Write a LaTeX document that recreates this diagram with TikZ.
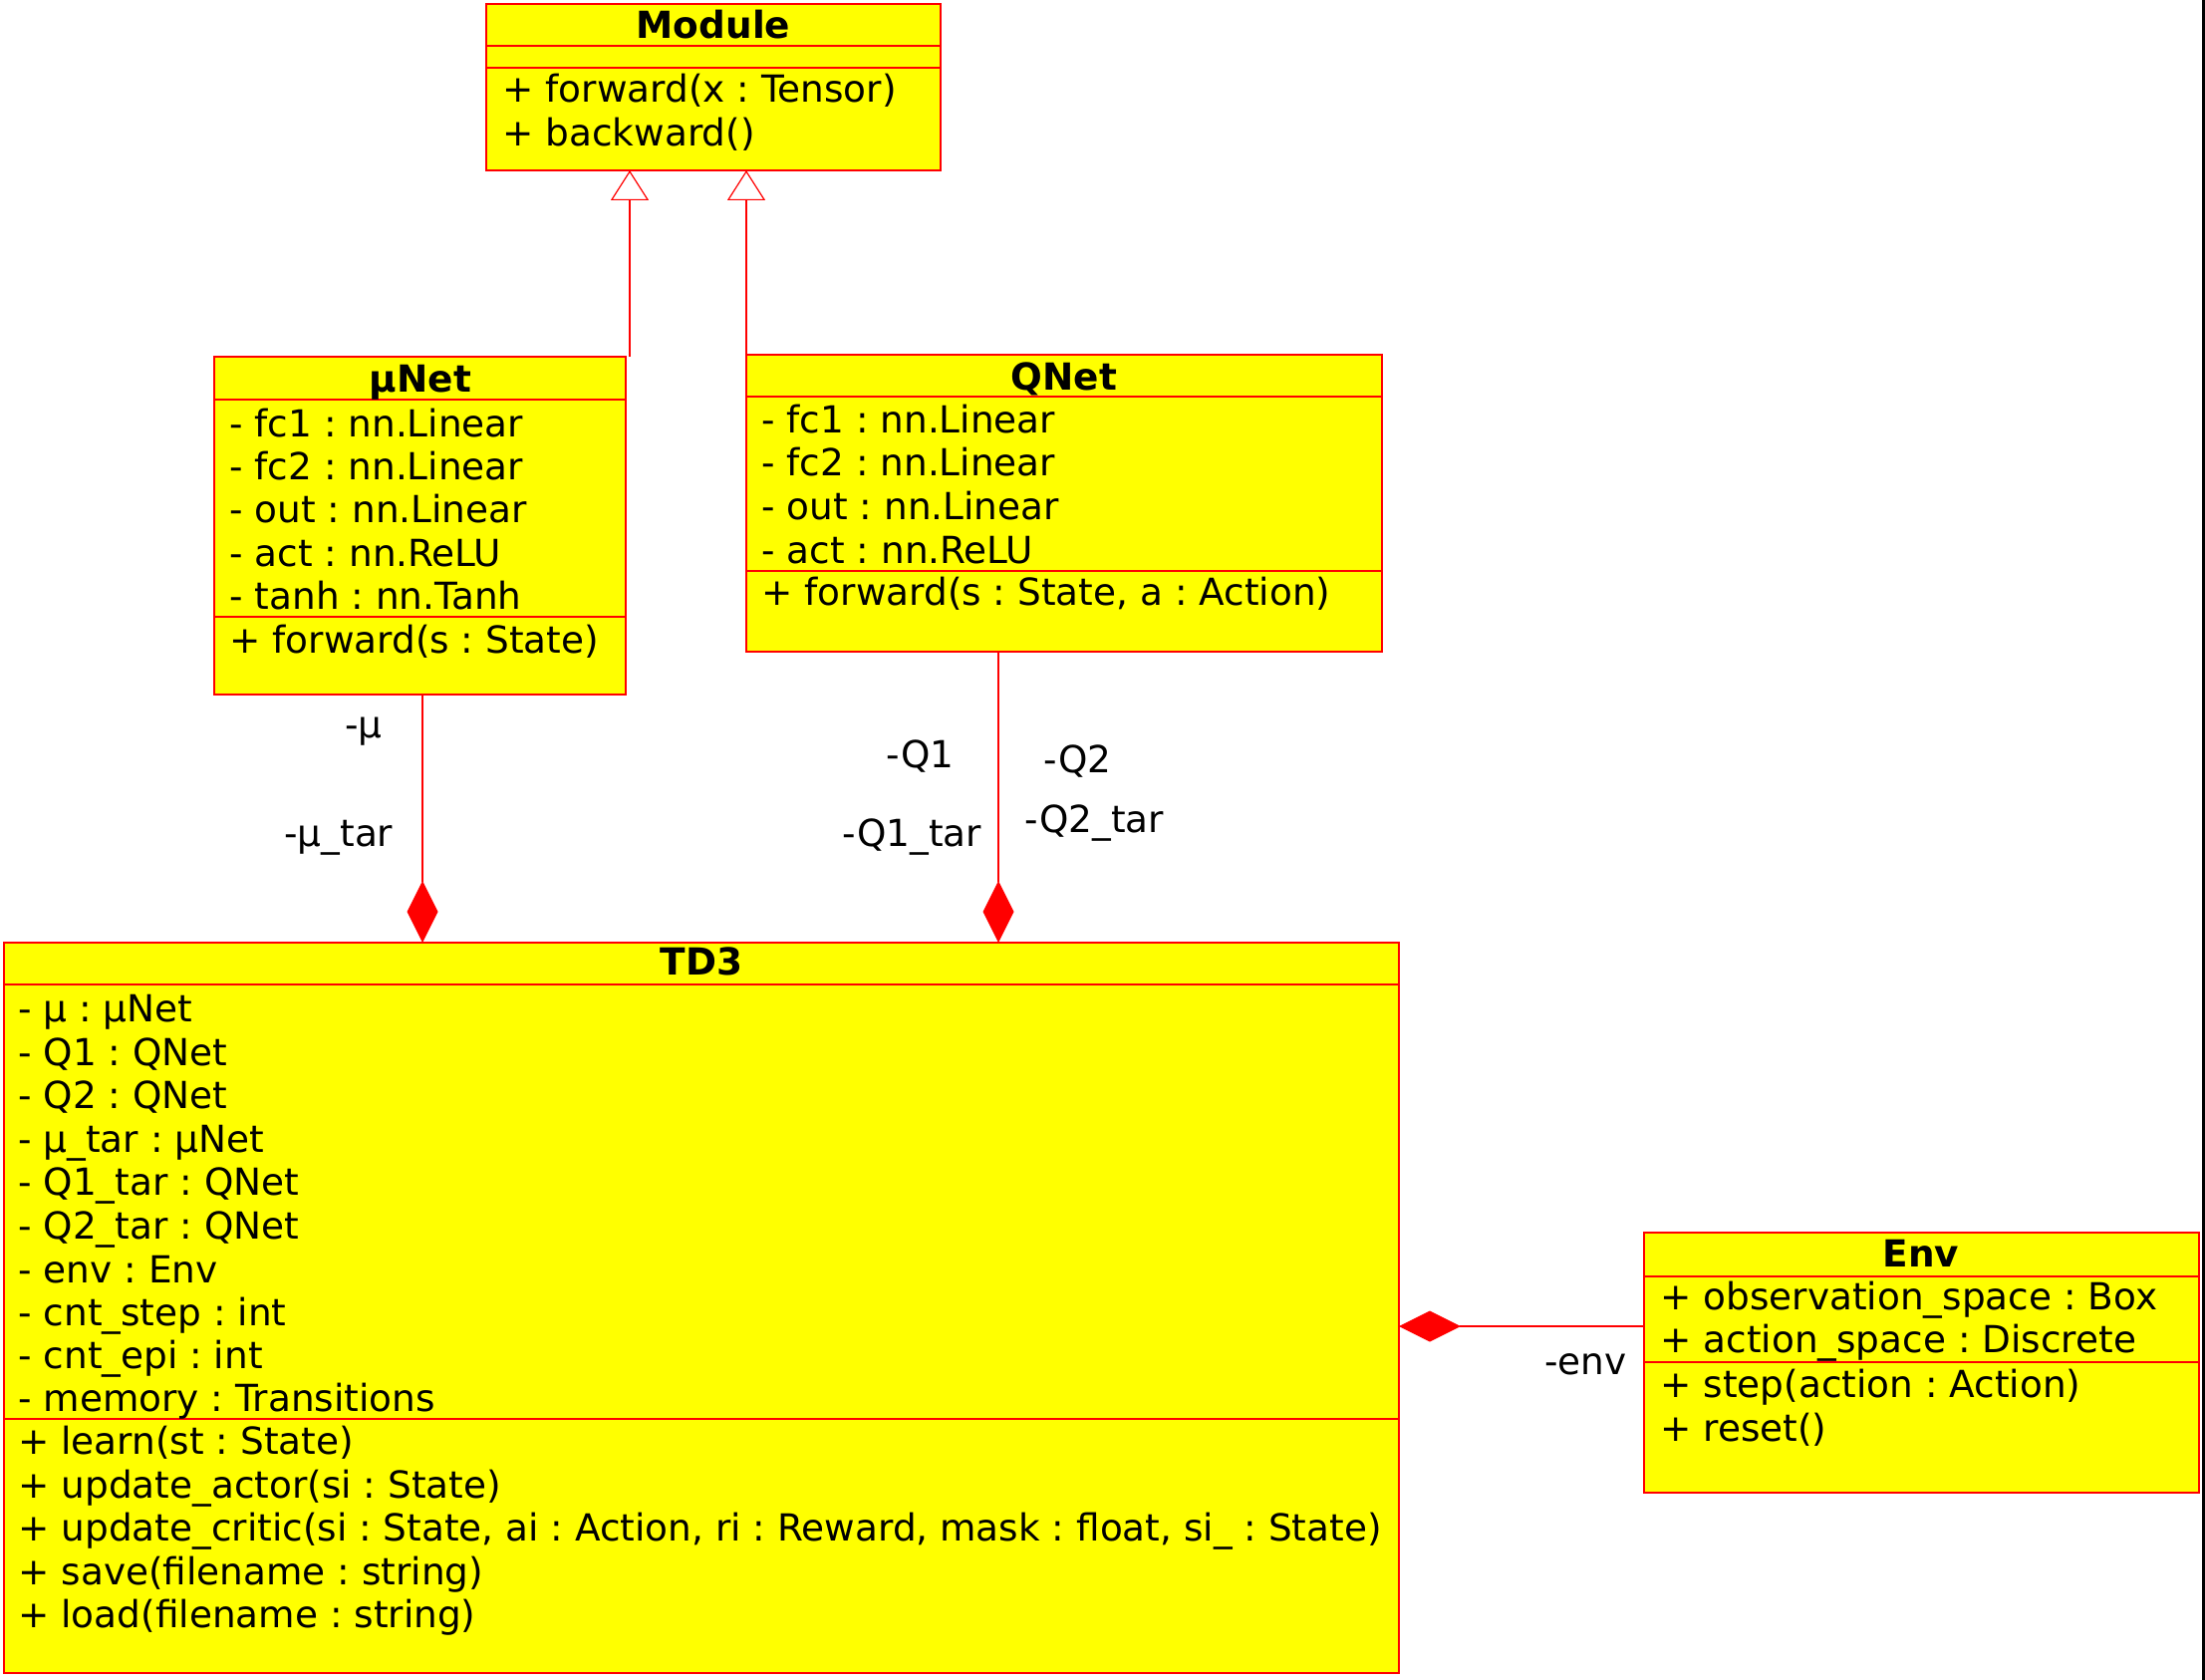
\documentclass[tikz,border=0pt]{standalone}
\usepackage{fontspec}
\setmainfont{DejaVu Sans}
\usetikzlibrary{arrows.meta}
\definecolor{umlfill}{HTML}{FFFF00}
\definecolor{umlline}{HTML}{FF0000}
\frenchspacing
\begin{document}
\begin{tikzpicture}[x=0.5pt,y=-0.5pt,
  box/.style={draw=umlline, fill=umlfill, line width=0.6pt, anchor=north west, inner sep=0pt, outer sep=0pt},
  div/.style={draw=umlline, line width=0.6pt},
  txt/.style={anchor=base west, inner sep=0pt, font=\fontsize{18.7}{22}\selectfont},
  ttl/.style={anchor=base, inner sep=0pt, font=\fontsize{18.7}{22}\selectfont\bfseries},
  inh/.style={draw=umlline, line width=0.6pt, -{Triangle[open, length=15pt, width=19pt, fill=white]}},
  comp/.style={draw=umlline, line width=0.6pt, -{Diamond[length=31pt, width=15.5pt, fill=umlline]}}
]
\useasboundingbox (0,0) rectangle (2213,1686);
\fill[white] (0,0) rectangle (2213,1686);
\fill[black] (2210,0) rectangle (2213,1686);

% ---------- Module ----------
\node[box, minimum width=228pt, minimum height=83.5pt] (mod) at (488,4) {};
\draw[div] (488,46) -- (944,46);
\draw[div] (488,68) -- (944,68);
\node[ttl] (modT) at (716,39) {Module};
\node[txt] (modM1) at (504,103) {+ forward(x : Tensor)};
\node[txt] (modM2) at (504,147) {+ backward()};

% ---------- muNet ----------
\node[box, minimum width=206.5pt, minimum height=169.5pt] (mu) at (215,358) {};
\draw[div] (215,401) -- (628,401);
\draw[div] (215,619) -- (628,619);
\node[ttl] (muT) at (422,393) {μNet};
\node[txt] (muA1) at (230,438) {- fc1 : nn.Linear};
\node[txt] (muA2) at (230,481) {- fc2 : nn.Linear};
\node[txt] (muA3) at (230,524) {- out : nn.Linear};
\node[txt] (muA4) at (230,568) {- act : nn.ReLU};
\node[txt] (muA5) at (230,611) {- tanh : nn.Tanh};
\node[txt] (muM1) at (230,655) {+ forward(s : State)};

% ---------- QNet ----------
\node[box, minimum width=319pt, minimum height=149pt] (qnet) at (749,356) {};
\draw[div] (749,398) -- (1387,398);
\draw[div] (749,573) -- (1387,573);
\node[ttl] (qT) at (1068,391) {QNet};
\node[txt] (qA1) at (764,434) {- fc1 : nn.Linear};
\node[txt] (qA2) at (764,477) {- fc2 : nn.Linear};
\node[txt] (qA3) at (764,521) {- out : nn.Linear};
\node[txt] (qA4) at (764,565) {- act : nn.ReLU};
\node[txt] (qM1) at (764,607) {+ forward(s : State, a : Action)};

% ---------- TD3 ----------
\node[box, minimum width=700pt, minimum height=366.5pt] (td3) at (4,946) {};
\draw[div] (4,988) -- (1404,988);
\draw[div] (4,1424) -- (1404,1424);
\node[ttl] (tdT) at (704,978) {TD3};
\node[txt] (tdA1) at (18,1025) {- μ : μNet};
\node[txt] (tdA2) at (18,1069) {- Q1 : QNet};
\node[txt] (tdA3) at (18,1112) {- Q2 : QNet};
\node[txt] (tdA4) at (18,1156) {- μ\_tar : μNet};
\node[txt] (tdA5) at (18,1199) {- Q1\_tar : QNet};
\node[txt] (tdA6) at (18,1243) {- Q2\_tar : QNet};
\node[txt] (tdA7) at (18,1287) {- env : Env};
\node[txt] (tdA8) at (18,1330) {- cnt\_step : int};
\node[txt] (tdA9) at (18,1373) {- cnt\_epi : int};
\node[txt] (tdA10) at (18,1416) {- memory : Transitions};
\node[txt] (tdM1) at (18,1459) {+ learn(st : State)};
\node[txt] (tdM2) at (18,1503) {+ update\_actor(si : State)};
\node[txt] (tdM3) at (18,1546) {+ update\_critic(si : State, ai : Action, ri : Reward, mask : float, si\_ : State)};
\node[txt] (tdM4) at (18,1590) {+ save(filename : string)};
\node[txt] (tdM5) at (18,1633) {+ load(filename : string)};

% ---------- Env ----------
\node[box, minimum width=278.5pt, minimum height=130.5pt] (env) at (1650,1237) {};
\draw[div] (1650,1281) -- (2207,1281);
\draw[div] (1650,1367) -- (2207,1367);
\node[ttl] (envT) at (1928,1271) {Env};
\node[txt] (envA1) at (1666,1314) {+ observation\_space : Box};
\node[txt] (envA2) at (1666,1357) {+ action\_space : Discrete};
\node[txt] (envM1) at (1666,1402) {+ step(action : Action)};
\node[txt] (envM2) at (1666,1446) {+ reset()};

% ---------- connectors ----------
\coordinate (inhL) at (632,358);
\draw[inh] (inhL) -- (inhL |- mod.south);
\draw[inh] (qnet.north west) -- (qnet.north west |- mod.south);

\coordinate (cmpMu) at (424,697);
\draw[comp] (cmpMu) -- (cmpMu |- td3.north);
\coordinate (cmpQ) at (1002,654);
\draw[comp] (cmpQ) -- (cmpQ |- td3.north);
\coordinate (cmpEnv) at (1650,1331);
\draw[comp] (cmpEnv) -- (cmpEnv -| td3.east);

% ---------- role labels ----------
\node[txt] (lMu) at (346,740) {-μ};
\node[txt] (lMuT) at (285,849) {-μ\_tar};
\node[txt] (lQ1) at (889,770) {-Q1};
\node[txt] (lQ1T) at (845,849) {-Q1\_tar};
\node[txt] (lQ2) at (1047,775) {-Q2};
\node[txt] (lQ2T) at (1028,835) {-Q2\_tar};
\node[txt] (lEnv) at (1550,1379) {-env};
\end{tikzpicture}
\end{document}
